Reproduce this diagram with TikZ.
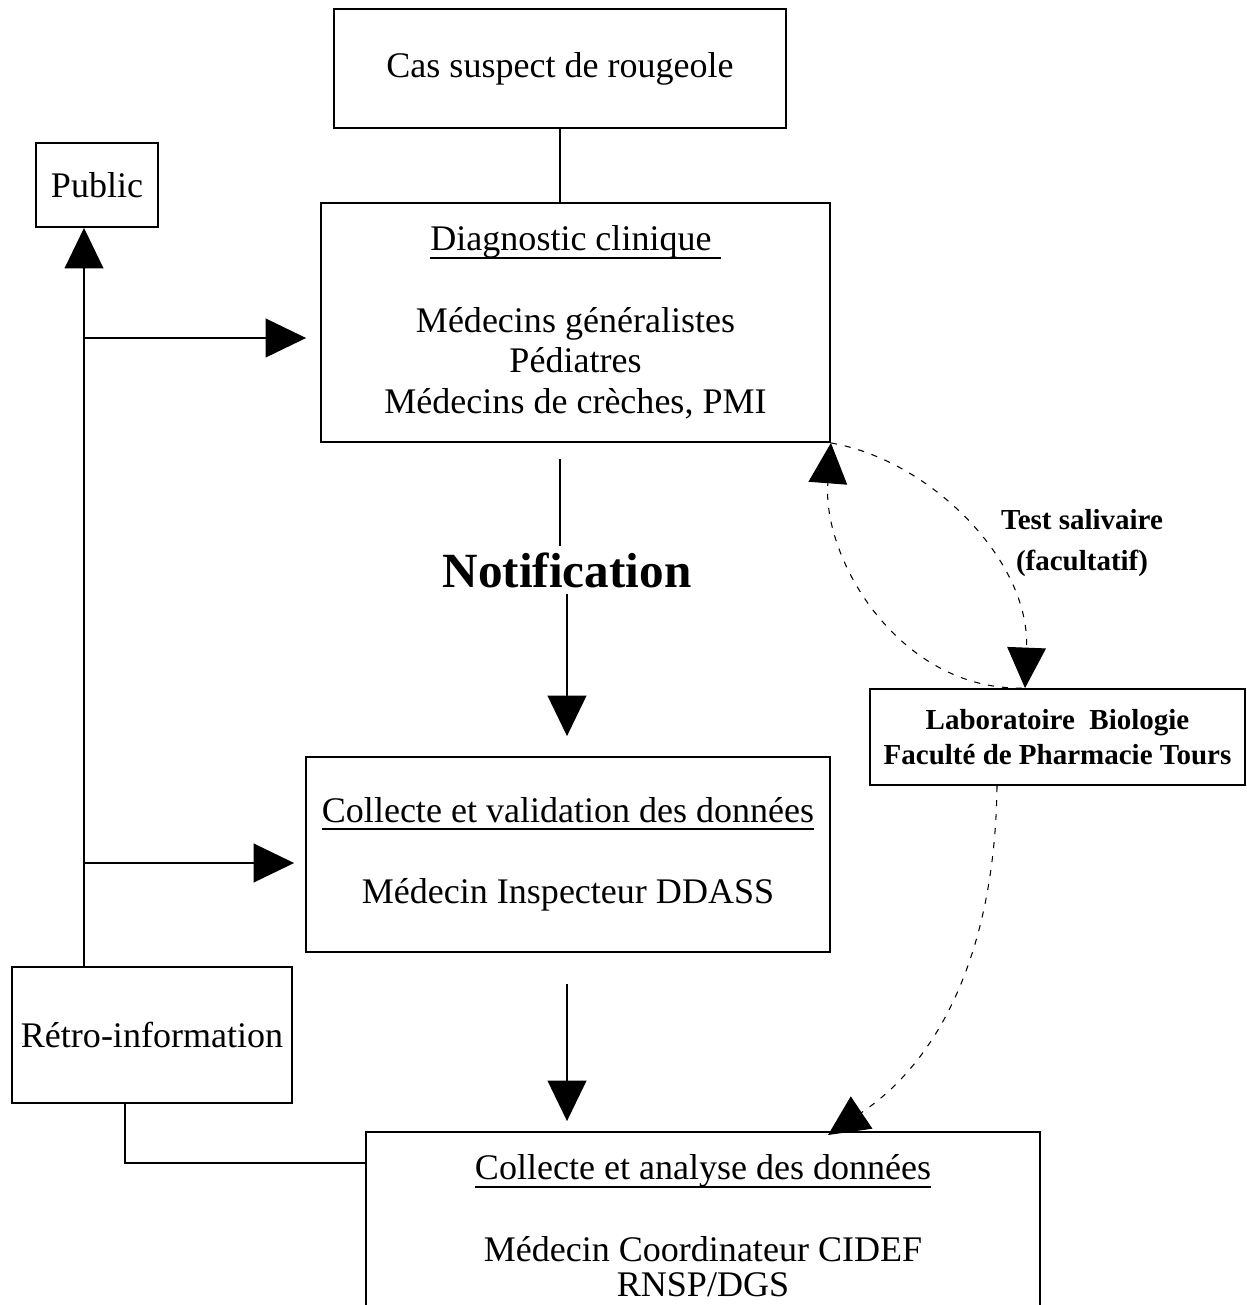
\documentclass[tikz,border=0pt]{standalone}
\usepackage{fontspec}
\setmainfont{Liberation Serif}
\usetikzlibrary{arrows.meta}
\tikzset{>={Triangle[length=23pt,width=22pt]}}
\newcommand{\titre}[1]{\setbox0\hbox{#1}\rlap{\rule[-4.5pt]{\wd0}{1.1pt}}\box0}

\begin{document}
\begin{tikzpicture}[x=0.02cm, y=-0.02cm,
	every node/.style={font=\fontsize{20.5}{23.2}\selectfont},
	boite/.style={draw, line width=1.1pt, align=center, inner sep=0pt},
	gras/.style={font=\fontsize{16.5}{19.8}\selectfont\bfseries},
	trait/.style={line width=1.1pt},
	fleche/.style={trait, ->},
	tirets/.style={line width=0.6pt, dash pattern=on 3.5pt off 4.5pt, ->}]

	\path[use as bounding box, clip] (0,0) rectangle (1247,1305);

	\node[boite, minimum width=9.04cm, minimum height=2.38cm] (cas) at (560,68.5) {Cas suspect de rougeole};
	\node[boite, minimum width=2.44cm, minimum height=1.68cm] (public) at (97,185) {Public};
	\node[boite, minimum width=10.18cm, minimum height=4.78cm] (diag) at (575.5,322.5)
		{\titre{Diagnostic clinique\ }\\ \\ Médecins généralistes\\ Pédiatres\\ Médecins de crèches, PMI};
	\node[font=\fontsize{28}{32}\selectfont\bfseries] (notif) at (567,570) {Notification};
	\node[boite, minimum width=10.48cm, minimum height=3.9cm] (valid) at (568,854.5)
		{\titre{Collecte et validation des données}\\ \\ Médecin Inspecteur DDASS};
	\node[boite, minimum width=13.48cm, minimum height=3.76cm] (analyse) at (703,1226)
		{\titre{Collecte et analyse des données}\\ \\ Médecin Coordinateur CIDEF\\[-3pt] RNSP/DGS};
	\node[boite, minimum width=5.6cm, minimum height=2.72cm] (retro) at (152,1035) {Rétro-information};
	\node[boite, gras, minimum width=7.5cm, minimum height=1.92cm] (lab) at (1057.5,737)
		{Laboratoire~~Biologie\\ Faculté de Pharmacie Tours};
	\node[gras, font=\fontsize{16.5}{23.2}\selectfont\bfseries, align=center] (test) at (1082,543)
		{Test salivaire\\ (facultatif)};

	% circuit principal
	\draw[trait] (cas) -- (cas |- diag.north);
	\draw[trait, shorten <=0.32cm] (diag.south -| cas) -- (notif.north -| cas);
	\draw[fleche, shorten >=0.4cm] (notif.south) -- (notif.south |- valid.north);
	\draw[fleche, shorten <=0.62cm, shorten >=0.2cm] (valid.south -| notif) -- (notif |- analyse.north);

	% retro-information
	\coordinate (tronc) at ([xshift=-1.36cm]retro.north);
	\coordinate (dg) at ([yshift=-0.31cm]diag.west);
	\coordinate (vg) at ([yshift=-0.17cm]valid.west);
	\coordinate (r1) at ([xshift=-0.54cm]retro.south);
	\draw[fleche] (tronc) -- (tronc |- public.south);
	\draw[fleche, shorten >=0.28cm] (tronc |- dg) -- (dg);
	\draw[fleche, shorten >=0.22cm] (tronc |- vg) -- (vg);
	\draw[trait] (r1) |- ([yshift=1.26cm]analyse.west);

	% test salivaire
	\draw[tirets] (diag.south east) .. controls (930,460) and (1030,560) .. ([xshift=-0.65cm]lab.north);
	\draw[tirets] ([xshift=-0.71cm]lab.north) .. controls (900,690) and (822,560) .. (diag.south east);
	\draw[tirets] ([xshift=-1.21cm]lab.south) .. controls (995,950) and (940,1060) .. (828,1135);
\end{tikzpicture}
\end{document}
